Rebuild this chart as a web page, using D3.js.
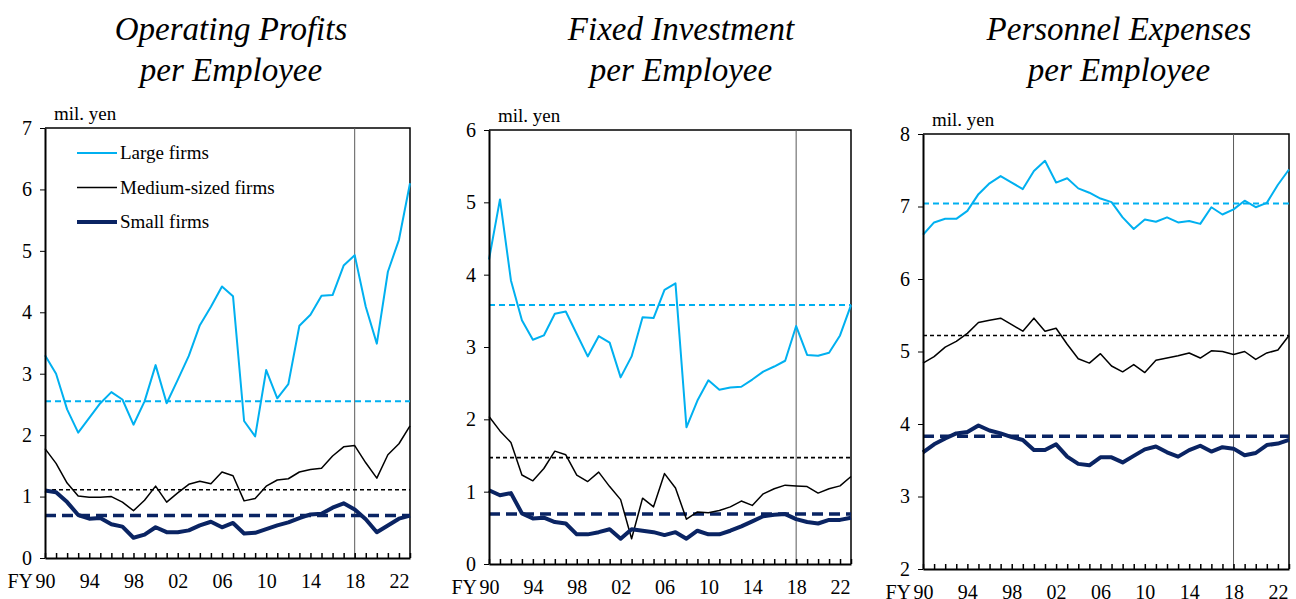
<!DOCTYPE html>
<html>
<head>
<meta charset="utf-8">
<script src="https://cdn.jsdelivr.net/npm/d3@7"></script>
<style>
  body { margin: 0; background: #fff; }
  svg { display: block; font-family: "Liberation Serif", "Times New Roman", serif; }
  .title { font-style: italic; font-size: 33px; }
  .axis text { font-family: "Liberation Serif", serif; font-size: 20px; fill: #000; }
</style>
</head>
<body>
<svg id="chart" width="1296" height="599"></svg>
<script>
const width = 1296, height = 599;

// fiscal years, 1990 to 2023
const years = ["90","91","92","93","94","95","96","97","98","99","00","01","02","03","04","05","06",
  "07","08","09","10","11","12","13","14","15","16","17","18","19","20","21","22","23"];
const yearLabels = ["90","94","98","02","06","10","14","18","22"];
const markYear = "18";
const seriesNames = ["Large firms", "Medium-sized firms", "Small firms"];

// operating profits per employee (mil. yen)
const opLarge = [3.30,3.00,2.42,2.04,2.28,2.52,2.70,2.58,2.17,2.55,3.14,2.52,2.90,3.29,3.79,4.09,4.42,
  4.26,2.23,1.98,3.06,2.60,2.83,3.78,3.96,4.27,4.28,4.76,4.93,4.09,3.49,4.66,5.18,6.10];
const opMedium = [1.78,1.54,1.22,1.01,0.99,0.99,1.00,0.91,0.77,0.94,1.17,0.91,1.06,1.20,1.25,1.21,1.40,
  1.34,0.93,0.97,1.17,1.27,1.29,1.40,1.44,1.46,1.66,1.81,1.83,1.55,1.30,1.68,1.86,2.15];
const opSmall = [1.10,1.07,0.91,0.70,0.64,0.65,0.55,0.51,0.33,0.38,0.50,0.42,0.42,0.45,0.53,0.59,0.50,
  0.57,0.40,0.41,0.47,0.53,0.58,0.65,0.71,0.72,0.82,0.89,0.79,0.63,0.42,0.53,0.64,0.69];
const opAvg = [2.55, 1.11, 0.69];

// fixed investment per employee (mil. yen)
const invLarge = [4.21,5.04,3.92,3.37,3.10,3.16,3.46,3.49,3.18,2.87,3.15,3.06,2.58,2.87,3.41,3.40,3.79,
  3.88,1.89,2.26,2.54,2.41,2.44,2.45,2.55,2.66,2.73,2.81,3.29,2.89,2.88,2.92,3.16,3.58];
const invMedium = [2.04,1.84,1.68,1.23,1.15,1.32,1.56,1.51,1.23,1.14,1.27,1.07,0.89,0.35,0.91,0.79,1.25,
  1.05,0.62,0.72,0.71,0.74,0.79,0.87,0.81,0.97,1.04,1.09,1.08,1.07,0.98,1.04,1.08,1.21];
const invSmall = [1.02,0.95,0.98,0.70,0.63,0.64,0.58,0.56,0.41,0.41,0.44,0.48,0.35,0.48,0.46,0.44,0.40,
  0.44,0.35,0.46,0.41,0.41,0.46,0.52,0.59,0.66,0.68,0.69,0.62,0.58,0.56,0.61,0.61,0.64];
const invAvg = [3.58, 1.47, 0.69];

// personnel expenses per employee (mil. yen)
const perLarge = [6.61,6.78,6.83,6.83,6.94,7.17,7.32,7.42,7.33,7.24,7.49,7.63,7.33,7.39,7.25,7.19,7.11,
  7.06,6.85,6.69,6.82,6.79,6.85,6.78,6.80,6.76,6.99,6.89,6.96,7.08,6.99,7.05,7.30,7.51];
const perMedium = [4.84,4.93,5.06,5.14,5.25,5.40,5.43,5.46,5.37,5.28,5.46,5.28,5.32,5.10,4.90,4.84,4.97,
  4.80,4.72,4.82,4.71,4.88,4.91,4.94,4.98,4.91,5.01,5.00,4.96,5.00,4.89,4.98,5.02,5.22];
const perSmall = [3.61,3.72,3.80,3.87,3.89,3.98,3.91,3.87,3.82,3.78,3.64,3.64,3.72,3.55,3.45,3.43,3.54,
  3.54,3.47,3.56,3.65,3.69,3.61,3.55,3.64,3.70,3.62,3.68,3.66,3.57,3.60,3.71,3.73,3.78];
const perAvg = [7.04, 5.22, 3.83];

// line styles for large / medium / small
const styles = [
  { color: "#00b0f0", w: 2, dashW: 2, dash: "6,4" },
  { color: "#000000", w: 1.5, dashW: 1.6, dash: "4,3" },
  { color: "#0a2463", w: 4, dashW: 3.5, dash: "11,6" }
];

const panels = [
  { title: ["Operating Profits", "per Employee"], cx: 231, left: 45, right: 410, top: 128, bottom: 558,
    domain: [0, 7], series: [opLarge, opMedium, opSmall], avg: opAvg, legend: true },
  { title: ["Fixed Investment", "per Employee"], cx: 681, left: 489, right: 851, top: 130, bottom: 564,
    domain: [0, 6], series: [invLarge, invMedium, invSmall], avg: invAvg, legend: false },
  { title: ["Personnel Expenses", "per Employee"], cx: 1119, left: 923, right: 1289, top: 134, bottom: 569,
    domain: [2, 8], series: [perLarge, perMedium, perSmall], avg: perAvg, legend: false }
];

const svg = d3.select("#chart");

panels.forEach(p => {
  const g = svg.append("g");
  const x = d3.scalePoint().domain(years).range([p.left, p.right]);
  const y = d3.scaleLinear().domain(p.domain).range([p.bottom, p.top]);

  // title, two lines
  g.selectAll(".title").data(p.title).join("text")
    .attr("class", "title")
    .attr("x", p.cx).attr("y", (d, i) => 40 + i * 41)
    .attr("text-anchor", "middle")
    .text(d => d);

  // frame top and right
  g.append("path")
    .attr("d", `M${p.left},${p.top}H${p.right}V${p.bottom}`)
    .attr("fill", "none").attr("stroke", "#000").attr("stroke-width", 1.5);

  // FY18 marker
  g.append("line")
    .attr("x1", x(markYear)).attr("x2", x(markYear))
    .attr("y1", p.top).attr("y2", p.bottom)
    .attr("stroke", "#595959").attr("stroke-width", 1);

  // average dashed lines
  p.avg.forEach((v, i) => {
    g.append("line")
      .attr("x1", p.left).attr("x2", p.right)
      .attr("y1", y(v)).attr("y2", y(v))
      .attr("stroke", styles[i].color).attr("stroke-width", styles[i].dashW)
      .attr("stroke-dasharray", styles[i].dash);
  });

  const line = d3.line().x((d, i) => x(years[i])).y(d => y(d));
  p.series.forEach((s, i) => {
    g.append("path").datum(s)
      .attr("d", line)
      .attr("fill", "none")
      .attr("stroke", styles[i].color)
      .attr("stroke-width", styles[i].w)
      .attr("stroke-linejoin", "round");
  });

  // y axis
  const yAxis = g.append("g").attr("class", "axis")
    .attr("transform", `translate(${p.left},0)`)
    .call(d3.axisLeft(y).ticks(6).tickFormat(d3.format("d")).tickSize(5).tickSizeOuter(0).tickPadding(8));
  yAxis.select(".domain").attr("stroke-width", 2);

  // x axis, ticks point inwards
  const xAxis = g.append("g").attr("class", "axis")
    .attr("transform", `translate(0,${p.bottom})`)
    .call(d3.axisBottom(x).tickSize(-5).tickSizeOuter(0).tickPadding(16)
      .tickFormat(d => yearLabels.includes(d) ? d : ""));
  xAxis.select(".domain").attr("stroke-width", 2);
  xAxis.selectAll(".tick line").attr("stroke-width", 1.5);

  g.append("text")
    .attr("x", p.left - 12).attr("y", p.bottom + 30)
    .attr("text-anchor", "end")
    .style("font-size", "20px")
    .text("FY");

  g.append("text")
    .attr("x", p.left + 9).attr("y", p.top - 8)
    .style("font-size", "19px")
    .text("mil. yen");

  if (p.legend) {
    seriesNames.forEach((name, i) => {
      const ly = 153 + i * 34.5;
      g.append("line")
        .attr("x1", 77).attr("x2", 117).attr("y1", ly).attr("y2", ly)
        .attr("stroke", styles[i].color).attr("stroke-width", styles[i].w);
      g.append("text")
        .attr("x", 120).attr("y", ly + 6)
        .style("font-size", "19px")
        .text(name);
    });
  }
});
</script>
</body>
</html>
